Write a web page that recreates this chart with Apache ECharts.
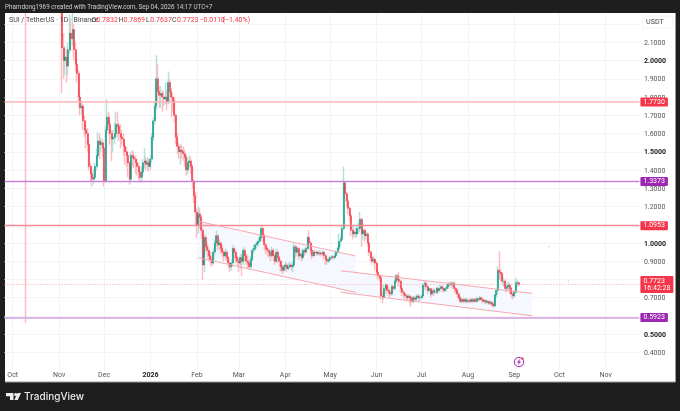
<!DOCTYPE html>
<html>
<head>
<meta charset="utf-8">
<style>
  html, body { margin: 0; padding: 0; background: #1e1e1e; }
  #chart { width: 680px; height: 411px; }
</style>
<script src="https://cdn.jsdelivr.net/npm/echarts@6/dist/echarts.min.js"></script>
</head>
<body>
<div id="chart"></div>
<script>
// Daily closes, one line per month, Sep 26 2025 .. Sep 4 2026
// (anything above 2.3 is out of view, only rough)
const closes = [
  3.25, 3.30, 3.35, 3.28, 3.22,
  3.38, 3.55, 3.62, 3.50, 3.55, 3.58, 3.48, 3.56, 3.42, 2.72, 2.75, 2.90, 2.82, 2.75, 2.70, 2.62, 2.60, 2.68, 2.72, 2.70, 2.63, 2.58, 2.65, 2.66, 2.68, 2.78, 2.75, 2.62, 2.55, 2.50, 2.48,
  2.46, 2.40, 2.07, 2.00, 2.02, 1.97, 2.06, 2.15, 2.12, 2.17, 2.06, 1.98, 1.93, 1.80, 1.74, 1.75, 1.67, 1.62, 1.60, 1.54, 1.42, 1.38, 1.35, 1.36, 1.42, 1.48, 1.56, 1.54, 1.55, 1.52,
  1.34, 1.62, 1.69, 1.65, 1.60, 1.57, 1.58, 1.60, 1.65, 1.64, 1.60, 1.58, 1.57, 1.53, 1.50, 1.48, 1.44, 1.35, 1.48, 1.47, 1.46, 1.44, 1.42, 1.39, 1.36, 1.39, 1.44, 1.45, 1.43, 1.44, 1.42,
  1.46, 1.58, 1.67, 1.75, 1.90, 1.83, 1.81, 1.82, 1.80, 1.79, 1.80, 1.77, 1.88, 1.83, 1.80, 1.78, 1.70, 1.58, 1.53, 1.50, 1.51, 1.50, 1.49, 1.47, 1.40, 1.44, 1.45, 1.42, 1.34, 1.26, 1.17,
  1.10, 1.16, 1.14, 1.07, 0.88, 1.03, 0.98, 0.96, 0.93, 0.91, 0.89, 0.95, 1.00, 1.04, 0.99, 1.00, 0.97, 0.95, 0.93, 0.95, 0.92, 0.89, 0.87, 0.89, 0.97, 0.95, 0.92, 0.90,
  0.89, 0.92, 0.90, 0.96, 0.93, 0.90, 0.89, 0.87, 0.91, 0.96, 0.97, 0.99, 1.00, 1.01, 1.03, 1.08, 1.04, 0.99, 0.97, 0.96, 0.95, 0.93, 0.96, 0.93, 0.90, 0.95, 0.92, 0.90, 0.87, 0.85, 0.87,
  0.88, 0.86, 0.87, 0.88, 0.87, 0.88, 0.98, 0.95, 0.97, 0.93, 0.94, 0.92, 0.96, 0.95, 0.97, 1.03, 1.00, 0.96, 0.93, 0.95, 0.945, 0.95, 0.94, 0.945, 0.94, 0.95, 0.93, 0.91, 0.90, 0.91,
  0.92, 0.925, 0.92, 0.93, 0.95, 0.97, 1.01, 1.02, 1.08, 1.33, 1.27, 1.23, 1.19, 1.15, 1.07, 1.05, 1.06, 1.05, 1.08, 1.08, 1.13, 1.05, 1.07, 1.04, 1.05, 1.00, 0.95, 0.92, 0.90, 0.91, 0.89,
  0.84, 0.82, 0.81, 0.71, 0.70, 0.75, 0.77, 0.74, 0.73, 0.72, 0.76, 0.75, 0.79, 0.82, 0.80, 0.79, 0.75, 0.73, 0.72, 0.71, 0.70, 0.71, 0.70, 0.68, 0.70, 0.69, 0.70, 0.71, 0.70, 0.70,
  0.71, 0.77, 0.78, 0.76, 0.74, 0.75, 0.72, 0.74, 0.73, 0.73, 0.75, 0.74, 0.75, 0.76, 0.75, 0.74, 0.75, 0.76, 0.775, 0.78, 0.77, 0.78, 0.75, 0.74, 0.72, 0.70, 0.68, 0.69, 0.68, 0.69, 0.68,
  0.685, 0.68, 0.69, 0.68, 0.69, 0.68, 0.695, 0.69, 0.70, 0.69, 0.68, 0.685, 0.675, 0.68, 0.67, 0.675, 0.665, 0.655, 0.715, 0.74, 0.85, 0.84, 0.83, 0.79, 0.79, 0.75, 0.76, 0.77, 0.75, 0.72, 0.71,
  0.73, 0.78, 0.7832, 0.7723
];
const highs = [
  3.35, 3.38, 3.42, 3.40, 3.32,
  3.45, 3.60, 3.68, 3.65, 3.62, 3.65, 3.60, 3.62, 3.60, 3.45, 2.85, 2.95, 2.95, 2.88, 2.80, 2.75, 2.70, 2.72, 2.78, 2.78, 2.75, 2.68, 2.70, 2.72, 2.75, 2.85, 2.85, 2.78, 2.68, 2.60, 2.55,
  2.52, 2.48, 2.42, 2.15, 2.08, 2.06, 2.10, 2.25, 2.22, 2.28, 2.20, 2.10, 2.02, 1.95, 1.82, 1.78, 1.76, 1.70, 1.66, 1.63, 1.56, 1.44, 1.42, 1.40, 1.44, 1.52, 1.61, 1.60, 1.58, 1.57,
  1.53, 1.64, 1.79, 1.72, 1.67, 1.62, 1.62, 1.66, 1.72, 1.72, 1.66, 1.65, 1.62, 1.60, 1.55, 1.53, 1.50, 1.45, 1.50, 1.51, 1.50, 1.48, 1.46, 1.44, 1.41, 1.42, 1.46, 1.52, 1.47, 1.47, 1.46,
  1.48, 1.60, 1.69, 1.77, 2.03, 1.98, 1.86, 1.86, 1.84, 1.83, 1.88, 1.84, 1.94, 1.90, 1.85, 1.82, 1.80, 1.71, 1.60, 1.55, 1.54, 1.54, 1.53, 1.51, 1.48, 1.47, 1.48, 1.47, 1.43, 1.35, 1.28,
  1.19, 1.20, 1.19, 1.15, 1.08, 1.05, 1.04, 1.00, 0.98, 0.95, 0.93, 0.97, 1.02, 1.07, 1.05, 1.02, 1.01, 0.99, 0.96, 0.97, 0.96, 0.93, 0.90, 0.91, 0.99, 0.98, 0.96, 0.93,
  0.92, 0.94, 0.94, 0.98, 0.97, 0.94, 0.93, 0.91, 0.93, 0.97, 0.99, 1.00, 1.01, 1.03, 1.05, 1.09, 1.09, 1.05, 1.00, 0.98, 0.97, 0.96, 0.98, 0.97, 0.94, 0.97, 0.96, 0.93, 0.91, 0.88, 0.88,
  0.90, 0.89, 0.89, 0.90, 0.89, 0.90, 1.00, 0.99, 0.98, 0.98, 0.96, 0.95, 0.97, 0.97, 0.98, 1.04, 1.07, 1.01, 0.97, 0.96, 0.96, 0.96, 0.955, 0.96, 0.955, 0.96, 0.95, 0.94, 0.92, 0.92,
  0.93, 0.935, 0.93, 0.94, 0.96, 0.98, 1.05, 1.04, 1.10, 1.42, 1.34, 1.28, 1.25, 1.20, 1.16, 1.09, 1.09, 1.08, 1.10, 1.11, 1.17, 1.14, 1.09, 1.08, 1.07, 1.06, 1.01, 0.96, 0.93, 0.93, 0.92,
  0.90, 0.85, 0.83, 0.82, 0.73, 0.77, 0.78, 0.78, 0.76, 0.75, 0.77, 0.77, 0.80, 0.83, 0.83, 0.84, 0.80, 0.76, 0.74, 0.73, 0.72, 0.72, 0.72, 0.71, 0.71, 0.71, 0.71, 0.72, 0.72, 0.71,
  0.72, 0.78, 0.79, 0.79, 0.77, 0.76, 0.75, 0.75, 0.75, 0.75, 0.76, 0.76, 0.77, 0.77, 0.77, 0.76, 0.76, 0.77, 0.785, 0.79, 0.79, 0.79, 0.79, 0.76, 0.75, 0.73, 0.71, 0.70, 0.70, 0.70, 0.70,
  0.70, 0.695, 0.70, 0.70, 0.70, 0.70, 0.705, 0.70, 0.71, 0.705, 0.70, 0.695, 0.69, 0.69, 0.685, 0.685, 0.68, 0.675, 0.72, 0.75, 0.87, 0.955, 0.86, 0.84, 0.81, 0.80, 0.78, 0.79, 0.78, 0.76, 0.73,
  0.74, 0.81, 0.80, 0.7869
];
const lows = [
  3.15, 3.18, 3.25, 3.20, 3.12,
  3.30, 3.35, 3.50, 3.40, 3.45, 3.45, 3.40, 3.42, 3.30, 0.56, 2.60, 2.70, 2.70, 2.65, 2.60, 2.55, 2.50, 2.50, 2.60, 2.60, 2.55, 2.50, 2.50, 2.55, 2.60, 2.65, 2.60, 2.55, 2.45, 2.40, 2.40,
  2.40, 2.32, 1.82, 1.90, 1.92, 1.88, 1.92, 2.04, 2.05, 2.08, 2.00, 1.94, 1.88, 1.78, 1.70, 1.70, 1.62, 1.58, 1.52, 1.50, 1.40, 1.34, 1.31, 1.32, 1.35, 1.40, 1.46, 1.46, 1.50, 1.47,
  1.31, 1.33, 1.60, 1.60, 1.54, 1.45, 1.50, 1.54, 1.57, 1.58, 1.56, 1.52, 1.54, 1.48, 1.43, 1.42, 1.36, 1.32, 1.33, 1.42, 1.41, 1.38, 1.37, 1.35, 1.33, 1.34, 1.37, 1.41, 1.40, 1.40, 1.39,
  1.40, 1.44, 1.56, 1.65, 1.73, 1.78, 1.74, 1.74, 1.72, 1.75, 1.76, 1.73, 1.76, 1.78, 1.69, 1.72, 1.66, 1.54, 1.49, 1.46, 1.43, 1.46, 1.45, 1.42, 1.37, 1.38, 1.41, 1.38, 1.30, 1.22, 1.10,
  1.03, 1.05, 1.08, 1.02, 0.80, 0.84, 0.95, 0.92, 0.90, 0.88, 0.87, 0.88, 0.93, 0.98, 0.96, 0.96, 0.94, 0.92, 0.90, 0.91, 0.90, 0.86, 0.84, 0.85, 0.87, 0.91, 0.89, 0.87,
  0.84, 0.86, 0.82, 0.88, 0.90, 0.88, 0.86, 0.85, 0.86, 0.90, 0.94, 0.96, 0.97, 0.98, 1.00, 1.02, 1.01, 0.96, 0.94, 0.93, 0.92, 0.90, 0.92, 0.90, 0.88, 0.89, 0.89, 0.87, 0.84, 0.83, 0.84,
  0.85, 0.84, 0.85, 0.86, 0.85, 0.84, 0.87, 0.92, 0.93, 0.91, 0.92, 0.90, 0.91, 0.93, 0.94, 0.96, 0.97, 0.94, 0.91, 0.92, 0.93, 0.93, 0.93, 0.93, 0.925, 0.93, 0.91, 0.88, 0.88, 0.89,
  0.90, 0.91, 0.905, 0.91, 0.92, 0.94, 0.96, 0.98, 1.01, 1.07, 1.24, 1.20, 1.16, 1.12, 1.04, 1.02, 1.03, 1.03, 1.03, 1.05, 1.06, 0.98, 1.02, 1.01, 1.02, 0.98, 0.93, 0.90, 0.88, 0.89, 0.85,
  0.82, 0.80, 0.79, 0.69, 0.67, 0.69, 0.73, 0.72, 0.71, 0.70, 0.71, 0.73, 0.74, 0.77, 0.78, 0.76, 0.73, 0.71, 0.70, 0.69, 0.68, 0.69, 0.67, 0.65, 0.67, 0.67, 0.68, 0.69, 0.68, 0.68,
  0.69, 0.70, 0.75, 0.74, 0.72, 0.73, 0.70, 0.71, 0.71, 0.72, 0.72, 0.72, 0.73, 0.74, 0.73, 0.73, 0.73, 0.74, 0.75, 0.76, 0.75, 0.76, 0.73, 0.72, 0.70, 0.69, 0.67, 0.67, 0.67, 0.67, 0.67,
  0.67, 0.67, 0.67, 0.67, 0.675, 0.67, 0.675, 0.68, 0.68, 0.68, 0.67, 0.67, 0.665, 0.665, 0.66, 0.66, 0.655, 0.645, 0.65, 0.70, 0.72, 0.80, 0.79, 0.77, 0.76, 0.73, 0.73, 0.74, 0.72, 0.70, 0.69,
  0.70, 0.72, 0.76, 0.7637
];
// Open of a daily crypto bar is the close before it (header O 0.7832 is Sep 3's close)
const firstOpen = 3.22;

const yTicksBold = ['2.0', '1.5', '1.0', '0.5'];
const yTicksHidden = ['2.3', '2.2', '0.3'];
const monthNames = ['2026', 'Feb', 'Mar', 'Apr', 'May', 'Jun', 'Jul', 'Aug', 'Sep', 'Oct', 'Nov', 'Dec'];

// Drawn levels and tags [price, line colour, width, tag colour]
const levels = [
  [1.773, '#fbb4ba', 1.5, '#f5364a'],
  [1.3373, '#c585d8', 1.3, '#9c27b0'],
  [1.0953, '#f88b95', 1.3, '#f5364a'],
  [0.5923, '#dcb6e6', 2, '#9c27b0'],
];
const lastPrice = 0.7723;
const lastPriceCountdown = '16:42:28';
// Trend channels [category index, price]
const channelAUpper = [[130, 1.117], [234, 0.929]];
const channelALower = [[129, 0.919], [234, 0.73]];
const channelBUpper = [[224, 0.848], [352, 0.724]];
const channelBLower = [[224, 0.73], [352, 0.601]];
const specks = [[363, 0.98], [376, 0.792]];

const TOTAL_DAYS = 424;
const dates = [];
for (let i = 0; i < TOTAL_DAYS; i++) {
  dates.push(new Date(Date.UTC(2025, 8, 26 + i)).toISOString().slice(0, 10));
}

const UP = '#089981';
const DOWN = '#f23645';
const FONT = 'Roboto, "Liberation Sans", sans-serif';

const wickData = closes.map((c, i) => [i ? closes[i - 1] : firstOpen, c, lows[i], highs[i]]);
const bodyData = wickData.map(([o, c]) => [o, c, Math.min(o, c), Math.max(o, c)]);

const legendParts = [
  ['SUI / TetherUS · 1D · Binance', 9, '#444'],
  ['O', 91.5, '#444'], ['0.7832', 96.3, DOWN],
  ['H', 118.5, '#444'], ['0.7869', 123.5, DOWN],
  ['L', 146, '#444'], ['0.7637', 150.3, DOWN],
  ['C', 172, '#444'], ['0.7723', 177, DOWN],
  ['−0.0110', 199.5, DOWN], ['(−1.40%)', 222.5, DOWN],
];

const text = (x, y, value, fill, extra) => ({
  type: 'text', z: 110, silent: true, x, y,
  style: Object.assign({ text: value, fill, font: `7px ${FONT}`, textVerticalAlign: 'middle' }, extra),
});

const graphics = [
  // white panel behind the plot, dark frame on top of it
  { type: 'rect', z: -1, silent: true, shape: { x: 5, y: 13, width: 670, height: 369 }, style: { fill: '#fff' } },
  { type: 'rect', z: 100, silent: true, shape: { x: 0, y: 0, width: 680, height: 13 }, style: { fill: '#1e1e1e' } },
  { type: 'rect', z: 101, silent: true, shape: { x: 5, y: 381.5, width: 670.5, height: 1 }, style: { fill: '#9a9a9a' } },
  { type: 'rect', z: 101, silent: true, shape: { x: 675, y: 13, width: 1, height: 369 }, style: { fill: '#9a9a9a' } },
  text(5, 7.5, 'Phamdong1969 created with TradingView.com, Sep 04, 2026 14:17 UTC+7', '#cfcfcf', { font: `6.3px ${FONT}` }),
  { type: 'rect', z: 105, silent: true, shape: { x: 642.5, y: 16, width: 30.5, height: 12, r: 1 }, style: { fill: '#fff', stroke: '#eeeeee', lineWidth: 0.7 } },
  text(646, 22, 'USDT', '#444', { font: `7.2px ${FONT}` }),
  // TradingView logo
  { type: 'polygon', z: 110, silent: true, shape: { points: [[6, 393], [13.5, 393], [13.5, 400], [10, 400], [10, 396.3], [6, 396.3]] }, style: { fill: '#eee' } },
  { type: 'circle', z: 110, silent: true, shape: { cx: 15.7, cy: 394.6, r: 1.6 }, style: { fill: '#eee' } },
  { type: 'polygon', z: 110, silent: true, shape: { points: [[17.6, 393], [21, 393], [17.8, 400], [14.3, 400]] }, style: { fill: '#eee' } },
  text(24, 396.5, 'TradingView', '#e8e8e8', { font: '500 10px Inter, sans-serif' }),
  // snapshot bolt icon
  { type: 'circle', z: 110, silent: true, shape: { cx: 519, cy: 362, r: 4.7 }, style: { fill: '#fff', stroke: '#9c27b0', lineWidth: 1 } },
  { type: 'polygon', z: 111, silent: true, shape: { points: [[520, 358.8], [517, 362.6], [518.8, 362.6], [518, 365.2], [521, 361.4], [519.2, 361.4]] }, style: { fill: '#9c27b0' } },
  { type: 'circle', z: 111, silent: true, shape: { cx: 522.5, cy: 358.6, r: 1.2 }, style: { fill: '#f23645' } },
].concat(legendParts.map(([value, x, fill]) => text(x, 20.5, value, fill)));

const tagLabel = color => ({
  show: true, position: 'end', distance: 1, color: '#fff', backgroundColor: color,
  fontSize: 7, fontFamily: FONT, padding: [1, 3, 1, 3], borderRadius: 1,
  formatter: ({ value }) => value.toFixed(4),
});

const levelLines = levels.map(([yAxis, color, width, tag]) => ({
  yAxis, lineStyle: { color, width, type: 'solid' }, label: tagLabel(tag),
}));
levelLines.push({
  yAxis: lastPrice,
  lineStyle: { color: '#f9a0a8', width: 1, type: [1, 2] },
  label: Object.assign(tagLabel('#f5364a'), {
    formatter: `${lastPrice.toFixed(4)}\n${lastPriceCountdown}`,
    lineHeight: 7.5,
  }),
});

const channelLine = data => ({
  type: 'line', data, z: 6, silent: true, showSymbol: false, symbol: 'none', animation: false,
  lineStyle: { color: '#f8a8ae', width: 1 },
});

const chart = echarts.init(document.getElementById('chart'), null, { renderer: 'canvas' });
chart.setOption({
  animation: false,
  backgroundColor: '#1e1e1e',
  textStyle: { fontFamily: FONT },
  graphic: graphics,
  grid: { left: 4.5, right: 40.6, top: 5.9, bottom: 40.3 },
  xAxis: {
    type: 'category',
    data: dates,
    boundaryGap: true,
    axisLine: { show: false },
    axisTick: { show: false },
    axisLabel: {
      interval: (i, value) => value.endsWith('-01'),
      margin: 1.5,
      fontSize: 7,
      color: '#555',
      formatter: value => {
        const name = monthNames[Number(value.slice(5, 7)) - 1];
        return name === '2026' ? '{b|2026}' : name;
      },
      rich: { b: { fontSize: 7, fontWeight: 'bold', color: '#222' } },
    },
    splitLine: {
      show: true,
      alignWithLabel: true,
      interval: (i, value) => value.endsWith('-01'),
      lineStyle: { color: '#f3f4f6', width: 1 },
    },
  },
  yAxis: {
    type: 'value',
    position: 'right',
    min: 0.3,
    max: 2.3,
    interval: 0.1,
    axisLine: { show: false },
    axisTick: { show: false },
    axisLabel: {
      margin: 4.5,
      fontSize: 7,
      color: '#555',
      padding: [1.5, 0, 0, 0],
      formatter: value => {
        const key = value.toFixed(1);
        if (yTicksHidden.includes(key)) return '';
        const label = value.toFixed(4);
        return yTicksBold.includes(key) ? `{b|${label}}` : label;
      },
      rich: { b: { fontSize: 7, fontWeight: 'bold', color: '#222' } },
    },
    splitLine: {
      show: true,
      showMinLine: false,
      showMaxLine: false,
      lineStyle: { color: '#f3f4f6', width: 1 },
    },
  },
  series: [
    {
      // channel fills, under the candles
      type: 'custom',
      z: 1,
      silent: true,
      data: [0, 1],
      renderItem: (params, api) => {
        const [upper, lower] = params.dataIndex === 0 ? [channelAUpper, channelALower] : [channelBUpper, channelBLower];
        const points = [upper[0], upper[1], lower[1], lower[0]].map(p => api.coord(p));
        return { type: 'polygon', shape: { points }, style: { fill: '#f6f8ff' } };
      },
    },
    {
      // pale wicks
      type: 'candlestick',
      name: 'wicks',
      z: 3,
      data: wickData,
      barWidth: 1,
      silent: true,
      itemStyle: { color: '#b4e0d9', color0: '#fcc6ca', borderColor: '#b4e0d9', borderColor0: '#fcbcc1', borderWidth: 1.5 },
    },
    {
      // solid bodies on top
      type: 'candlestick',
      name: 'bodies',
      z: 4,
      data: bodyData,
      barWidth: 1.5,
      silent: true,
      itemStyle: { color: UP, color0: DOWN, borderColor: UP, borderColor0: DOWN, borderWidth: 0.5 },
      markLine: { silent: true, symbol: 'none', animation: false, precision: 4, data: levelLines },
    },
    channelLine(channelAUpper),
    channelLine(channelALower),
    channelLine(channelBUpper),
    channelLine(channelBLower),
    {
      type: 'scatter',
      data: specks,
      symbolSize: 1.5,
      silent: true,
      itemStyle: { color: '#aac4f5' },
    },
  ],
});
</script>
</body>
</html>
